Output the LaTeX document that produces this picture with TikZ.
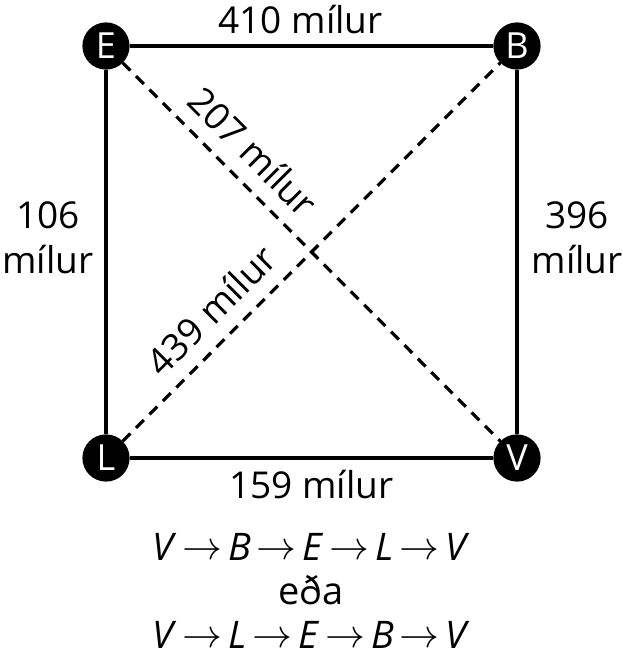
\documentclass[tikz,border=0pt]{standalone}
\usepackage{fontspec}
\setmainfont{Open Sans}
\newcommand{\goto}{\hspace{6pt}\raisebox{1pt}{\scalebox{1.6}{$\rightarrow$}}\hspace{6pt}}

\begin{document}
\begin{tikzpicture}[x=1pt, y=-1pt, line width=3.2pt,
    main/.style = {draw=black, circle, fill=black, text=white, minimum size=44pt, inner sep=0pt, font=\fontsize{36}{36}\selectfont},
    lbl/.style = {font=\fontsize{37}{45}\selectfont, align=center, inner sep=3pt}]

		\useasboundingbox (0,0) rectangle (622,669);

		\node[main] (E) at (106,46) {E};
		\node[main] (B) at (517,46) {B};
		\node[main] (L) at (106,458) {L};
		\node[main] (V) at (517,458) {V};

		\draw (E) to node[lbl, pos=0.47, above=8pt] {410 mílur} (B);
		\draw (B) to node[lbl, pos=0.46, right=10pt] {396\\mílur} (V);
		\draw (V) to node[lbl, midway, below=8pt] {159 mílur} (L);
		\draw (L) to node[lbl, pos=0.54, left=8pt] {106\\mílur} (E);
		\draw[dashed, dash pattern=on 11pt off 8pt] (E) to node[lbl, sloped, pos=0.29, above=11pt] {207 mílur} (V);
		\draw[dashed, dash pattern=on 11pt off 8pt] (L) to node[lbl, sloped, pos=0.29, above=11pt] {439 mílur} (B);

		\node[font=\fontsize{38}{44}\selectfont, align=center] (route) at (311,591)
			{\textit{V}\goto\textit{B}\goto\textit{E}\goto\textit{L}\goto\textit{V}\\
			 eða\\
			 \textit{V}\goto\textit{L}\goto\textit{E}\goto\textit{B}\goto\textit{V}};
	\end{tikzpicture}
\end{document}
